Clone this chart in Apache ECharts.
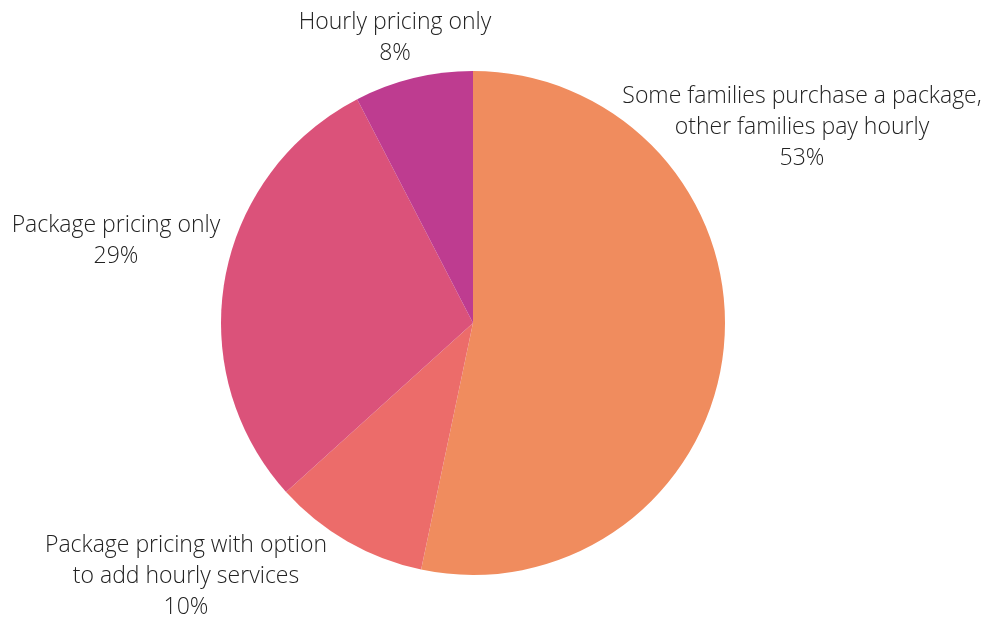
<!DOCTYPE html>
<html>
<head>
<meta charset="utf-8">
<script src="https://cdn.jsdelivr.net/npm/echarts@6/dist/echarts.min.js"></script>
<style>
  html, body { margin: 0; padding: 0; background: #fff; }
  #chart { width: 992px; height: 636px; }
</style>
</head>
<body>
<div id="chart"></div>
<script>
// slices, clockwise from 12 o'clock
var categories = [
    'Some families purchase a package,\nother families pay hourly',
    'Package pricing with option\nto add hourly services',
    'Package pricing only',
    'Hourly pricing only'
];
var values = [53.3, 10, 29.1, 7.6];
var percentLabels = ['53%', '10%', '29%', '8%'];
var colors = ['#F08C5E', '#EC6C6A', '#DB527A', '#BE3C90'];

// where each label block sits (centre of the text block)
var labelSpots = [[802, 127], [186, 576], [116, 241], [395, 38]];

var pieData = [];
for (var i = 0; i < categories.length; i++) {
    pieData.push({
        name: categories[i],
        value: values[i],
        itemStyle: { color: colors[i] }
    });
}

var myChart = echarts.init(document.getElementById('chart'));
var option = {
    animation: false,
    series: [{
        type: 'pie',
        center: [473, 323],
        radius: 252,
        startAngle: 90,
        clockwise: true,
        data: pieData,
        label: {
            show: true,
            position: 'outside',
            formatter: function (p) {
                return p.name + '\n' + percentLabels[p.dataIndex];
            },
            fontFamily: 'Open Sans',
            fontWeight: 300,
            fontSize: 23,
            lineHeight: 31,
            color: '#222',
            align: 'center',
            overflow: 'none',
            width: 500
        },
        labelLine: { show: false },
        labelLayout: function (params) {
            var s = labelSpots[params.dataIndex];
            return {
                x: s[0],
                y: s[1],
                align: 'center',
                verticalAlign: 'middle'
            };
        }
    }]
};
myChart.setOption(option);
</script>
</body>
</html>
